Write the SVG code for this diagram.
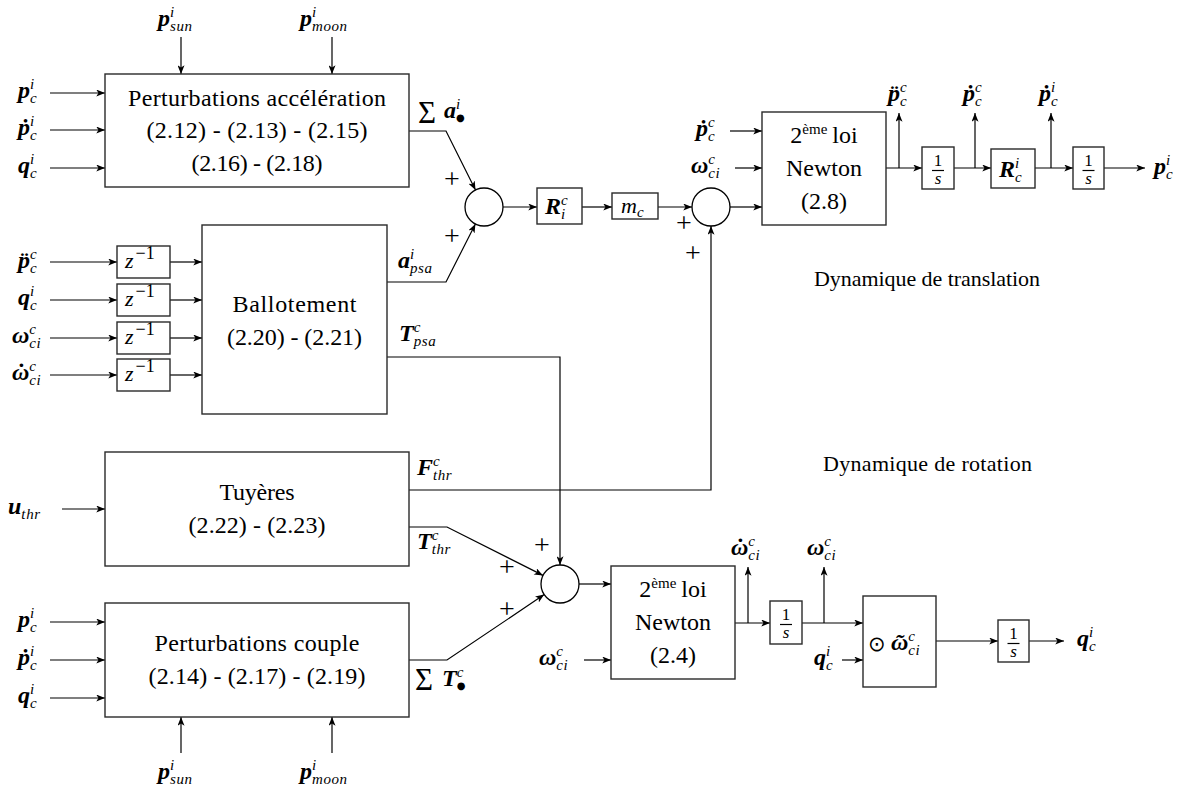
<svg xmlns="http://www.w3.org/2000/svg" width="1188" height="791" viewBox="0 0 1188 791">
<style>
text{font-family:'Liberation Serif','Times New Roman',serif;fill:#000}
.bx{fill:#fff;stroke:#2a2a2a;stroke-width:1.4}
.ci{fill:#fff;stroke:#000;stroke-width:1.3}
.ln{fill:none;stroke:#000;stroke-width:1.2}
.t{font-size:24px;text-anchor:middle}
.d{font-size:22px}
.m{font-size:24px;font-style:italic;font-weight:bold}
.s{font-size:15px;font-weight:normal;letter-spacing:0.6px}
.mi{font-size:22px;font-style:italic}
.z{font-size:18px;font-style:normal}
.up{font-style:normal;font-weight:normal}
.pl{font-size:28px;text-anchor:middle}
.fr{font-size:17px;text-anchor:middle}
.sym{font-family:'DejaVu Sans',sans-serif;font-style:normal;font-weight:normal}
</style>
<defs>
<marker id="ar" viewBox="0 0 10 8" refX="10" refY="4" markerWidth="9" markerHeight="7" markerUnits="userSpaceOnUse" orient="auto">
<path d="M0,0 L10,4 L0,8 L2.5,4 z" fill="#000"/>
</marker>
</defs>

<g id="connectors" class="ln" marker-end="url(#ar)">
<path d="M50,93 H105"/>
<path d="M50,130 H105"/>
<path d="M50,168 H105"/>
<path d="M181,37 V74"/>
<path d="M332,37 V74"/>
<path d="M409,131 H446 L475.5,190"/>
<path d="M387,282 H446 L475.4,224"/>
<path d="M503,207 H537"/>
<path d="M582,207 H612"/>
<path d="M658,207 H692"/>
<path d="M730,207 H762"/>
<path d="M730,131 H762"/>
<path d="M735,168 H762"/>
<path d="M886,168 H922"/>
<path d="M899,168 V113"/>
<path d="M954,168 H991"/>
<path d="M975,168 V113"/>
<path d="M1035,168 H1073"/>
<path d="M1051,168 V113"/>
<path d="M1104,168 H1145"/>
<path d="M409,490 H711 V226"/>
<path d="M387,357 H560 V565"/>
<path d="M50,262 H117"/>
<path d="M170,262 H202"/>
<path d="M50,300 H117"/>
<path d="M170,300 H202"/>
<path d="M50,338 H117"/>
<path d="M170,338 H202"/>
<path d="M50,375 H117"/>
<path d="M170,375 H202"/>
<path d="M62,509 H105"/>
<path d="M409,527 H447 L543,575.4"/>
<path d="M409,660 H447 L544.2,594.6"/>
<path d="M50,622 H105"/>
<path d="M50,660 H105"/>
<path d="M50,698 H105"/>
<path d="M181,753 V717"/>
<path d="M332,753 V717"/>
<path d="M579,584 H611"/>
<path d="M584,660 H611"/>
<path d="M735,623 H770"/>
<path d="M748,623 V567"/>
<path d="M802,623 H863"/>
<path d="M824,623 V567"/>
<path d="M842,660 H863"/>
<path d="M936,641 H998"/>
<path d="M1029,641 H1064"/>
</g>

<g id="pert_acc">
<rect class="bx" x="105" y="74" width="304" height="113"/>
<text class="t" x="257" y="106" textLength="258">Perturbations accélération</text>
<text class="t" x="257" y="138" textLength="221">(2.12) - (2.13) - (2.15)</text>
<text class="t" x="257" y="171" textLength="131">(2.16) - (2.18)</text>
</g>

<g id="ballot">
<rect class="bx" x="202" y="225" width="185" height="189"/>
<text class="t" x="294.5" y="312" textLength="124">Ballotement</text>
<text class="t" x="294.5" y="345" textLength="135">(2.20) - (2.21)</text>
</g>

<g id="delays">
<rect class="bx" x="117" y="246" width="53" height="32"/>
<rect class="bx" x="117" y="284" width="53" height="32"/>
<rect class="bx" x="117" y="322" width="53" height="32"/>
<rect class="bx" x="117" y="359" width="53" height="32"/>
<text class="mi" x="125" y="268">z<tspan class="z" dx="2" dy="-9">−1</tspan></text>
<text class="mi" x="125" y="306">z<tspan class="z" dx="2" dy="-9">−1</tspan></text>
<text class="mi" x="125" y="344">z<tspan class="z" dx="2" dy="-9">−1</tspan></text>
<text class="mi" x="125" y="381">z<tspan class="z" dx="2" dy="-9">−1</tspan></text>
</g>

<g id="tuyeres">
<rect class="bx" x="105" y="452" width="304" height="114"/>
<text class="t" x="257" y="500" textLength="75">Tuyères</text>
<text class="t" x="257" y="533" textLength="137">(2.22) - (2.23)</text>
</g>

<g id="pert_couple">
<rect class="bx" x="105" y="603" width="304" height="114"/>
<text class="t" x="257" y="651" textLength="205">Perturbations couple</text>
<text class="t" x="257" y="684" textLength="217">(2.14) - (2.17) - (2.19)</text>
</g>

<g id="sum1"><circle class="ci" cx="484" cy="207" r="19"/></g>
<g id="Ric"><rect class="bx" x="537" y="188" width="45" height="36"/>
<text class="m" x="545" y="214">R<tspan class="s" dy="-9">c</tspan><tspan class="s" dx="-7.3" dy="14">i</tspan></text></g>
<g id="mc"><rect class="bx" x="612" y="193" width="46" height="26"/>
<text class="mi" x="621" y="213">m<tspan class="s" dy="4">c</tspan></text></g>
<g id="sum2"><circle class="ci" cx="711" cy="207" r="19"/></g>

<g id="newton_t">
<rect class="bx" x="762" y="112" width="124" height="113"/>
<text class="t" x="824" y="143">2<tspan font-size="15" dy="-9">ème</tspan><tspan dy="9" dx="5">loi</tspan></text>
<text class="t" x="824" y="176">Newton</text>
<text class="t" x="824" y="209">(2.8)</text>
</g>
<g id="int_t1"><rect class="bx" x="922" y="147" width="32" height="42"/>
<text class="fr" x="938" y="166">1</text><line class="ln" x1="932" y1="170.5" x2="944" y2="170.5"/><text class="fr" font-style="italic" x="938" y="184">s</text></g>
<g id="Rci"><rect class="bx" x="991" y="149" width="44" height="39"/>
<text class="m" x="999" y="177">R<tspan class="s" dy="-9">i</tspan><tspan class="s" dx="-4.8" dy="14">c</tspan></text></g>
<g id="int_t2"><rect class="bx" x="1073" y="147" width="31" height="42"/>
<text class="fr" x="1088.5" y="166">1</text><line class="ln" x1="1082.5" y1="170.5" x2="1094.5" y2="170.5"/><text class="fr" font-style="italic" x="1088.5" y="184">s</text></g>

<g id="sum3"><circle class="ci" cx="560" cy="584" r="19"/></g>
<g id="newton_r">
<rect class="bx" x="611" y="566" width="124" height="113"/>
<text class="t" x="673" y="597">2<tspan font-size="15" dy="-9">ème</tspan><tspan dy="9" dx="5">loi</tspan></text>
<text class="t" x="673" y="630">Newton</text>
<text class="t" x="673" y="663">(2.4)</text>
</g>
<g id="int_r1"><rect class="bx" x="770" y="601" width="32" height="43"/>
<text class="fr" x="786" y="620">1</text><line class="ln" x1="780" y1="624.5" x2="792" y2="624.5"/><text class="fr" font-style="italic" x="786" y="638">s</text></g>
<g id="quat"><rect class="bx" x="863" y="596" width="73" height="91"/>
<text class="sym" x="868" y="651" font-size="21">⊙</text>
<text class="m" x="891" y="650">ω<tspan class="s" dy="-9">c</tspan><tspan class="s" dx="-7.3" dy="14">ci</tspan><tspan x="895" y="650">˜</tspan></text></g>
<g id="int_r2"><rect class="bx" x="998" y="620" width="31" height="42"/>
<text class="fr" x="1013.5" y="639">1</text><line class="ln" x1="1007.5" y1="643.5" x2="1019.5" y2="643.5"/><text class="fr" font-style="italic" x="1013.5" y="657">s</text></g>

<g id="labels">
<text class="m" x="18" y="98">p<tspan class="s" dy="-9">i</tspan><tspan class="s" dx="-4.8" dy="14">c</tspan></text>
<text class="m" x="18" y="135">ṗ<tspan class="s" dy="-9">i</tspan><tspan class="s" dx="-4.8" dy="14">c</tspan></text>
<text class="m" x="18" y="173">q<tspan class="s" dy="-9">i</tspan><tspan class="s" dx="-4.8" dy="14">c</tspan></text>
<text class="m" x="158" y="26">p<tspan class="s" dy="-9">i</tspan><tspan class="s" dx="-4.8" dy="14">sun</tspan></text>
<text class="m" x="300" y="26">p<tspan class="s" dy="-9">i</tspan><tspan class="s" dx="-4.8" dy="14">moon</tspan></text>

<text class="up" x="418" y="123" font-size="31">Σ</text>
<text class="m" x="444" y="118">a<tspan class="s" dy="-9">i</tspan><tspan class="sym" font-size="10" dx="-4.8" dy="12">●</tspan></text>
<text class="m" x="398" y="268">a<tspan class="s" dy="-9">i</tspan><tspan class="s" dx="-4.8" dy="14">psa</tspan></text>
<text class="m" x="399" y="341">T<tspan class="s" dy="-9">c</tspan><tspan class="s" dx="-7.3" dy="14">psa</tspan></text>

<text class="m" x="18" y="268">p̈<tspan class="s" dy="-9">c</tspan><tspan class="s" dx="-7.3" dy="14">c</tspan></text>
<text class="m" x="18" y="305">q<tspan class="s" dy="-9">i</tspan><tspan class="s" dx="-4.8" dy="14">c</tspan></text>
<text class="m" x="12" y="343">ω<tspan class="s" dy="-9">c</tspan><tspan class="s" dx="-7.3" dy="14">ci</tspan></text>
<text class="m" x="12" y="380">ω<tspan class="s" dy="-9">c</tspan><tspan class="s" dx="-7.3" dy="14">ci</tspan><tspan x="16" y="380">˙</tspan></text>

<text class="m" x="417" y="475">F<tspan class="s" dy="-9">c</tspan><tspan class="s" dx="-7.3" dy="14">thr</tspan></text>
<text class="m" x="8" y="514">u<tspan class="s" dy="5">thr</tspan></text>
<text class="m" x="417" y="549">T<tspan class="s" dy="-9">c</tspan><tspan class="s" dx="-7.3" dy="14">thr</tspan></text>
<text class="up" x="415" y="690" font-size="31">Σ</text>
<text class="m" x="442" y="686">T<tspan class="s" dy="-9">c</tspan><tspan class="sym" font-size="10" dx="-7.3" dy="12">●</tspan></text>

<text class="m" x="18" y="627">p<tspan class="s" dy="-9">i</tspan><tspan class="s" dx="-4.8" dy="14">c</tspan></text>
<text class="m" x="18" y="665">ṗ<tspan class="s" dy="-9">i</tspan><tspan class="s" dx="-4.8" dy="14">c</tspan></text>
<text class="m" x="18" y="703">q<tspan class="s" dy="-9">i</tspan><tspan class="s" dx="-4.8" dy="14">c</tspan></text>
<text class="m" x="158" y="779">p<tspan class="s" dy="-9">i</tspan><tspan class="s" dx="-4.8" dy="14">sun</tspan></text>
<text class="m" x="300" y="779">p<tspan class="s" dy="-9">i</tspan><tspan class="s" dx="-4.8" dy="14">moon</tspan></text>

<text class="m" x="696" y="136">ṗ<tspan class="s" dy="-9">c</tspan><tspan class="s" dx="-7.3" dy="14">c</tspan></text>
<text class="m" x="691" y="173">ω<tspan class="s" dy="-9">c</tspan><tspan class="s" dx="-7.3" dy="14">ci</tspan></text>
<text class="m" x="888" y="101">p̈<tspan class="s" dy="-9">c</tspan><tspan class="s" dx="-7.3" dy="14">c</tspan></text>
<text class="m" x="963" y="101">ṗ<tspan class="s" dy="-9">c</tspan><tspan class="s" dx="-7.3" dy="14">c</tspan></text>
<text class="m" x="1039" y="101">ṗ<tspan class="s" dy="-9">i</tspan><tspan class="s" dx="-4.8" dy="14">c</tspan></text>
<text class="m" x="1154" y="174">p<tspan class="s" dy="-9">i</tspan><tspan class="s" dx="-4.8" dy="14">c</tspan></text>

<text class="m" x="539" y="665">ω<tspan class="s" dy="-9">c</tspan><tspan class="s" dx="-7.3" dy="14">ci</tspan></text>
<text class="m" x="731" y="555">ω<tspan class="s" dy="-9">c</tspan><tspan class="s" dx="-7.3" dy="14">ci</tspan><tspan x="735" y="555">˙</tspan></text>
<text class="m" x="807" y="555">ω<tspan class="s" dy="-9">c</tspan><tspan class="s" dx="-7.3" dy="14">ci</tspan></text>
<text class="m" x="814" y="665">q<tspan class="s" dy="-9">i</tspan><tspan class="s" dx="-4.8" dy="14">c</tspan></text>
<text class="m" x="1077" y="646">q<tspan class="s" dy="-9">i</tspan><tspan class="s" dx="-4.8" dy="14">c</tspan></text>

<text class="pl" x="452" y="188">+</text>
<text class="pl" x="452" y="245">+</text>
<text class="pl" x="684" y="232">+</text>
<text class="pl" x="693" y="262">+</text>
<text class="pl" x="542" y="554">+</text>
<text class="pl" x="507" y="576">+</text>
<text class="pl" x="507" y="618">+</text>

<text class="d" x="814" y="286" textLength="226">Dynamique de translation</text>
<text class="d" x="823" y="471" textLength="209">Dynamique de rotation</text>
</g>
</svg>
